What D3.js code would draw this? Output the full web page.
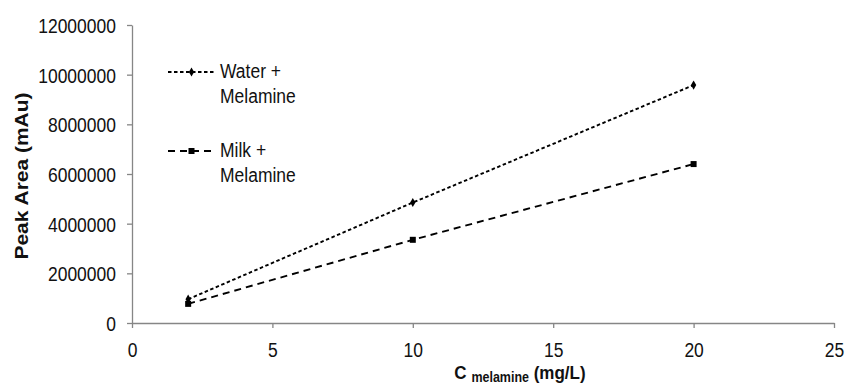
<!DOCTYPE html>
<html><head><meta charset="utf-8">
<script src="https://cdn.jsdelivr.net/npm/d3@7"></script>
<style>body{margin:0;background:#fff}svg{display:block;font-family:Arial,"Liberation Sans",sans-serif}</style>
</head><body><svg id="c" width="848" height="385"></svg>
<script>
const xTicks = [0, 5, 10, 15, 20, 25];
const yTicks = [0, 2000000, 4000000, 6000000, 8000000, 10000000, 12000000];
const waterX = [2, 10, 20];
const waterY = [960000, 4850000, 9580000];
const milkX = [2, 10, 20];
const milkY = [770000, 3350000, 6400000];
const seriesNames = [["Water +", "Melamine"], ["Milk +", "Melamine"]];

const FS = 17.5, SY = 1.2, FONT = "Arial, 'Liberation Sans', sans-serif";
const svg = d3.select("#c");
const x = d3.scaleLinear().domain([0, 25]).range([132, 834]);
const y = d3.scaleLinear().domain([0, 12000000]).range([323, 25]);

const ax = svg.append("g").attr("transform", "translate(0,323)")
  .call(d3.axisBottom(x).tickValues(xTicks).tickSize(5).tickSizeOuter(0));
const ay = svg.append("g").attr("transform", "translate(132,0)")
  .call(d3.axisLeft(y).tickValues(yTicks).tickFormat(d3.format("d")).tickSize(5).tickSizeOuter(0));
[ax, ay].forEach(g => {
  g.select(".domain").attr("stroke", "#868686").attr("stroke-width", 1.3);
  g.selectAll(".tick line").attr("stroke", "#868686").attr("stroke-width", 1.3);
  g.selectAll("text").attr("font-size", FS).attr("fill", "#111").attr("font-family", FONT)
    .attr("dy", 0);
});
ax.selectAll(".tick text").attr("y", 34 / SY).attr("transform", `scale(1,${SY})`);
ay.selectAll(".tick text").attr("x", -16).attr("y", 0.36 * FS).attr("transform", `scale(1,${SY})`);

const line = d3.line().x(d => x(d[0])).y(d => y(d[1]));
const water = waterX.map((v, i) => [v, waterY[i]]);
const milk = milkX.map((v, i) => [v, milkY[i]]);
const DW = "3.5,2.5", DM = "7,5";

svg.append("path").datum(water).attr("d", line).attr("fill", "none")
  .attr("stroke", "#000").attr("stroke-width", 1.9).attr("stroke-dasharray", DW);
svg.append("path").datum(milk).attr("d", line).attr("fill", "none")
  .attr("stroke", "#000").attr("stroke-width", 1.9).attr("stroke-dasharray", DM);

const diamond = d3.symbol().type(d3.symbolDiamond).size(24);
svg.selectAll(".wm").data(water).enter().append("path")
  .attr("transform", d => `translate(${x(d[0])},${y(d[1])})`).attr("d", diamond).attr("fill", "#000");
svg.selectAll(".mm").data(milk).enter().append("rect")
  .attr("x", d => x(d[0]) - 3).attr("y", d => y(d[1]) - 3).attr("width", 6).attr("height", 6).attr("fill", "#000");

function sText(px, py, str, opts = {}) {
  const g = svg.append("g").attr("transform", `translate(${px},${py}) scale(1,${SY})${opts.rot ? " rotate(" + opts.rot + ")" : ""}`);
  return g.append("text").attr("font-size", FS).attr("fill", "#111").attr("font-family", FONT)
    .attr("font-weight", opts.bold ? "bold" : null).attr("text-anchor", opts.anchor || "start").text(str);
}

// legend
const leg = [{y: 72, dash: DW, marker: "d"}, {y: 151, dash: DM, marker: "s"}];
leg.forEach((l, i) => {
  svg.append("line").attr("x1", 168).attr("x2", 215).attr("y1", l.y).attr("y2", l.y)
    .attr("stroke", "#000").attr("stroke-width", 1.9).attr("stroke-dasharray", l.dash);
  if (l.marker === "d") {
    svg.append("path").attr("transform", `translate(191.5,${l.y})`).attr("d", diamond).attr("fill", "#000");
  } else {
    svg.append("rect").attr("x", 188.5).attr("y", l.y - 3).attr("width", 6).attr("height", 6).attr("fill", "#000");
  }
  sText(220, l.y + 6, seriesNames[i][0]);
  sText(220, l.y + 31, seriesNames[i][1]);
});

// axis titles
sText(28, 176, "Peak Area (mAu)", {bold: true, anchor: "middle", rot: -90});
const g = svg.append("g").attr("transform", `translate(520,378.5) scale(1,1.1)`);
const xt = g.append("text").attr("text-anchor", "middle").attr("font-weight", "bold")
  .attr("fill", "#111").attr("font-size", 17).attr("font-family", FONT);
xt.append("tspan").text("C ");
xt.append("tspan").attr("font-size", 12.5).attr("dy", 3.2).text("melamine");
xt.append("tspan").attr("dy", -3.2).text(" (mg/L)");
</script></body></html>
